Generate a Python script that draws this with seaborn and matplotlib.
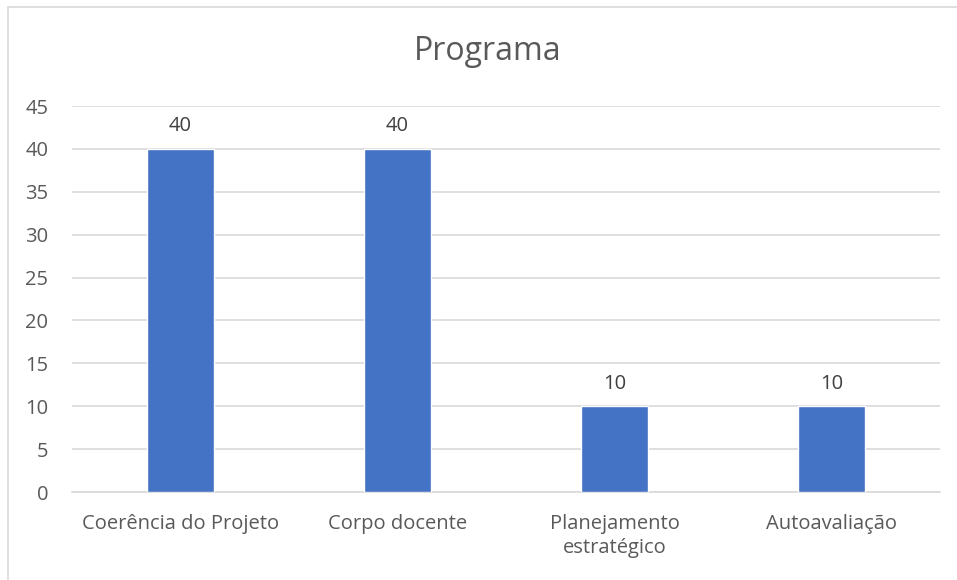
import matplotlib
matplotlib.use("Agg")
import matplotlib.pyplot as plt
import seaborn as sns
import pandas as pd
from matplotlib.patches import Rectangle

categories = ["Coerência do Projeto", "Corpo docente", "Planejamento\nestratégico", "Autoavaliação"]
values = [40, 40, 10, 10]
title = "Programa"

sns.set_theme(style="white")
plt.rcParams['font.family'] = ['Open Sans', 'DejaVu Sans']

df = pd.DataFrame({"cat": categories, "val": values})

fig = plt.figure(figsize=(9.57, 5.8), dpi=100)
ax = fig.add_axes([72/957, 1-492/580, (940-72)/957, (492-106)/580])

sns.barplot(data=df, x="cat", y="val", color="#4472C4", width=0.31, ax=ax,
            saturation=1, zorder=3)

ax.set_ylim(0, 45)
ax.set_yticks(range(0, 46, 5))
ax.yaxis.grid(True, color="#D9D9D9", linewidth=1.2, zorder=0)
ax.set_axisbelow(True)
for s in ["top", "right", "left"]:
    ax.spines[s].set_visible(False)
ax.spines["bottom"].set_color("#D9D9D9")
ax.spines["bottom"].set_linewidth(1.2)
ax.set_xlabel("")
ax.set_ylabel("")
ax.tick_params(axis="both", length=0, labelsize=14.5, labelcolor="#595959")
ax.tick_params(axis="y", pad=17)
ax.tick_params(axis="x", pad=16)
for lbl in ax.get_xticklabels():
    lbl.set_linespacing(1.25)

for c in ax.containers:
    ax.bar_label(c, labels=[str(v) for v in values], padding=9, fontsize=14.5, color="#404040")

fig.text(488/957, 1-52/580, title, ha="center", va="center", fontsize=23, color="#595959")

fig.patches.append(Rectangle((8/957, -0.05), 1.2, 1.05 - 7/580, transform=fig.transFigure,
                             fill=False, edgecolor="#D9D9D9", linewidth=1.2))

fig.savefig("out.png", dpi=100)
